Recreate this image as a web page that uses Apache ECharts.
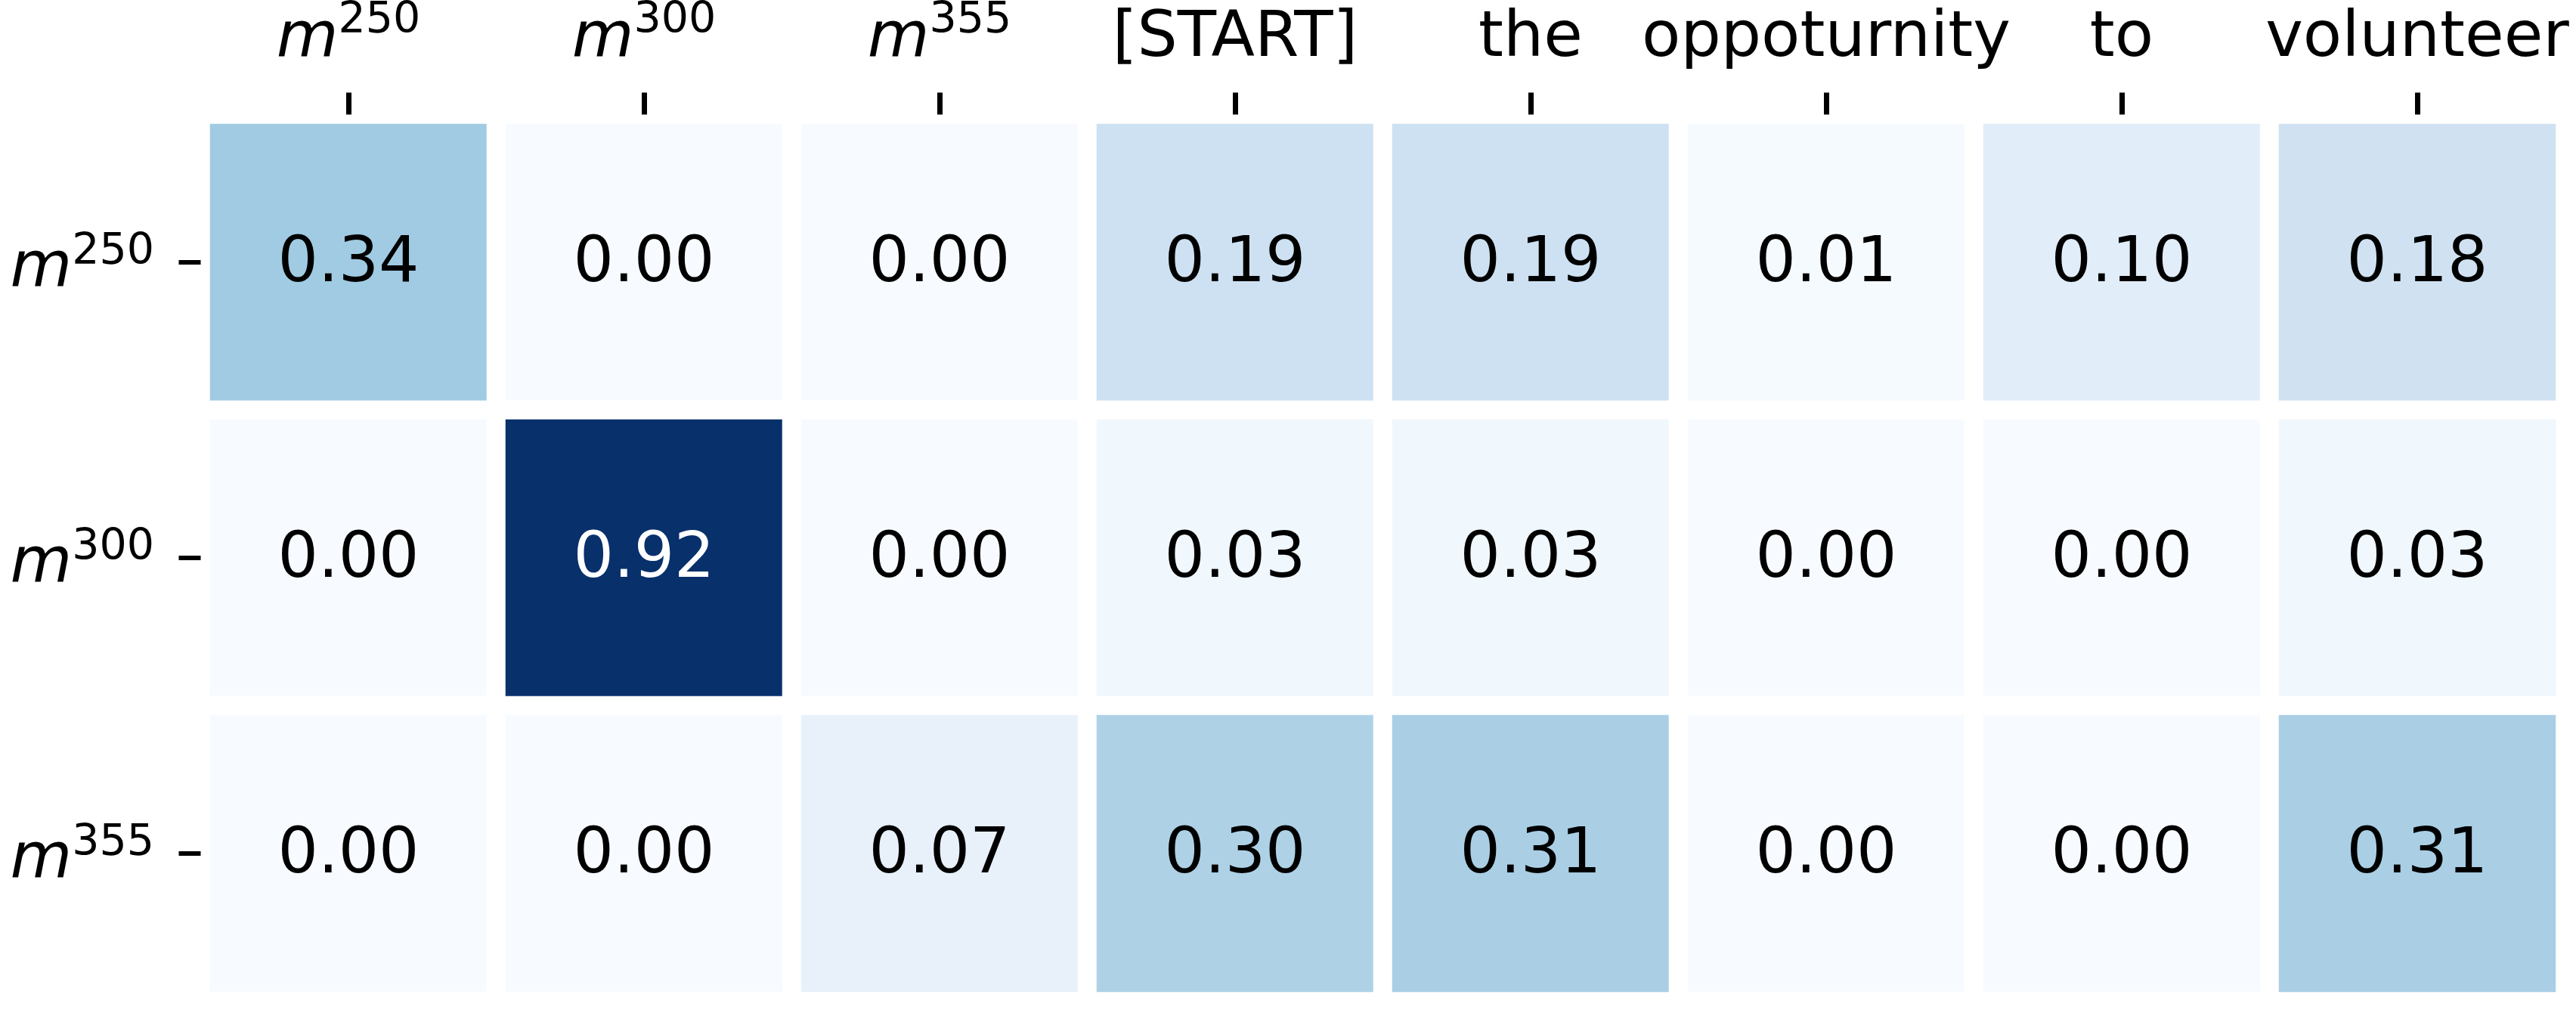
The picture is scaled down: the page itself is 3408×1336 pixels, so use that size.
<!DOCTYPE html>
<html><head><meta charset="utf-8">
<script src="https://cdn.jsdelivr.net/npm/echarts@6/dist/echarts.min.js"></script>
<style>html,body{margin:0;padding:0;background:#fff}#c{width:3408px;height:1336px}</style>
</head><body><div id="c"></div>
<script>
// ---- data ----
const colLabels = ['m^250', 'm^300', 'm^355', '[START]', 'the', 'oppoturnity', 'to', 'volunteer'];
const rowLabels = ['m^250', 'm^300', 'm^355'];
const rowM250 = [0.34, 0.00, 0.00, 0.19, 0.19, 0.01, 0.10, 0.18];
const rowM300 = [0.00, 0.92, 0.00, 0.03, 0.03, 0.00, 0.00, 0.03];
const rowM355 = [0.00, 0.00, 0.07, 0.30, 0.31, 0.00, 0.00, 0.31];
const rows = [rowM250, rowM300, rowM355];
const blues = ['#f7fbff', '#deebf7', '#c6dbef', '#9ecae1', '#6baed6', '#4292c6', '#2171b5', '#08519c', '#08306b'];

const vmax = Math.max(...rows.flat());
const data = [];
rows.forEach((r, i) => r.forEach((v, j) => data.push({
  value: [j, i, v],
  label: { color: v / vmax > 0.6 ? '#ffffff' : '#000000' }
})));

const FONT = 'DejaVu Sans';
function fmtTick(s) {
  const m = /^m\^(\d+)$/.exec(s);
  return m ? '{m|m}{s|' + m[1] + '}' : '{w|' + s + '}';
}
function richSet(L) {
  return {
    m: { fontFamily: FONT, fontStyle: 'italic', fontSize: 84, height: 84, lineHeight: L, verticalAlign: 'bottom', color: '#000' },
    s: { fontFamily: FONT, fontSize: 57, height: 57, lineHeight: L, verticalAlign: 'top', color: '#000' },
    w: { fontFamily: FONT, fontSize: 84, height: 84, lineHeight: L, verticalAlign: 'bottom', color: '#000' }
  };
}

const chart = echarts.init(document.getElementById('c'), null, { renderer: 'canvas' });
chart.setOption({
  animation: false,
  backgroundColor: '#ffffff',
  textStyle: { fontFamily: FONT },
  grid: { left: 265.5, top: 151.5, width: 3128, height: 1173, outerBoundsMode: 'none', containLabel: false },
  xAxis: {
    type: 'category', position: 'top', data: colLabels, z: 10,
    axisLine: { show: false },
    axisTick: { show: true, alignWithLabel: true, length: 29, lineStyle: { color: '#000', width: 7 } },
    axisLabel: { interval: 0, margin: 57.5, formatter: fmtTick, rich: richSet(94), hideOverlap: false },
    splitLine: { show: false }, splitArea: { show: false }
  },
  yAxis: {
    type: 'category', inverse: true, data: rowLabels, z: 10,
    axisLine: { show: false },
    axisTick: { show: true, alignWithLabel: true, length: 29, lineStyle: { color: '#000', width: 6 } },
    axisLabel: { interval: 0, margin: 61.5, formatter: fmtTick, rich: richSet(93), padding: [10, 0, 0, 0], hideOverlap: false },
    splitLine: { show: false }, splitArea: { show: false }
  },
  visualMap: { show: false, type: 'continuous', dimension: 2, min: 0, max: vmax, inRange: { color: blues } },
  series: [{
    type: 'heatmap',
    data: data,
    itemStyle: { borderColor: '#ffffff', borderWidth: 25 },
    label: {
      show: true, fontFamily: FONT, fontSize: 84, offset: [0, 3],
      textBorderWidth: 0,
      formatter: p => p.value[2].toFixed(2)
    },
    emphasis: { disabled: true }
  }]
});
</script></body></html>
